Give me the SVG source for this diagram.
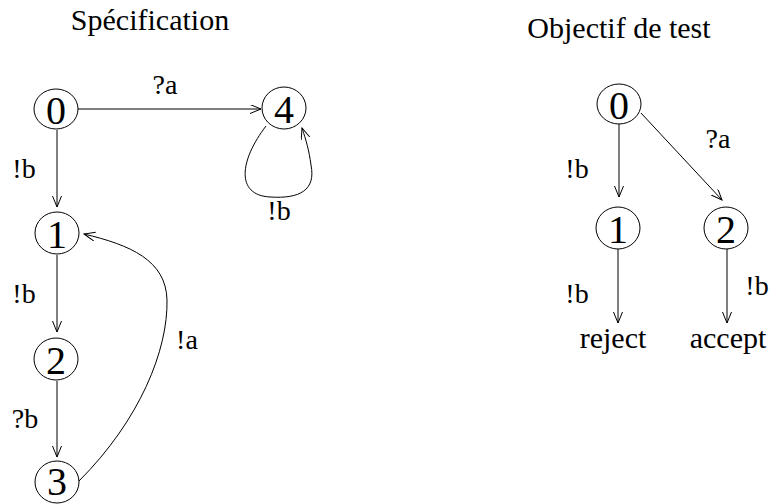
<svg xmlns="http://www.w3.org/2000/svg" width="772" height="504" viewBox="0 0 772 504">
<style>
  .node ellipse { fill: #fff; stroke: #000; stroke-width: 1; }
  .num { font-family: "Liberation Serif", "Times New Roman", serif; font-size: 40px; text-anchor: middle; fill: #000; }
  .lbl { font-family: "Liberation Serif", "Times New Roman", serif; font-size: 28px; text-anchor: middle; fill: #000; }
  .ttl { font-family: "Liberation Serif", "Times New Roman", serif; font-size: 30px; text-anchor: middle; fill: #000; }
  .edge { fill: none; stroke: #000; stroke-width: 1; marker-end: url(#arr); }
</style>
<defs>
  <marker id="arr" markerUnits="userSpaceOnUse" markerWidth="14" markerHeight="12" refX="11" refY="4.5" orient="auto">
    <path d="M0,0 L11,4.5 L0,9" fill="none" stroke="#000" stroke-width="1"/>
  </marker>
</defs>
<rect width="772" height="504" fill="#fff"/>

<text class="ttl" x="150" y="30">Spécification</text>
<text class="ttl" x="619" y="38">Objectif de test</text>

<g id="connectors">
  <path class="edge" d="M78,109 L261,109"/>
  <path class="edge" d="M57,130 L57,207"/>
  <path class="edge" d="M57,255 L57,332"/>
  <path class="edge" d="M57,381 L57,457"/>
  <path class="edge" d="M79,481 C140,420 168,350 167,300 C166,260 130,245 84,234"/>
  <path class="edge" d="M266,126 C240,160 235,195 270,197 C300,199 316,190 311,165 C309,150 306,140 302,128"/>
  <path class="edge" d="M619,124 L619,197"/>
  <path class="edge" d="M641,113 L722,200"/>
  <path class="edge" d="M618,249 L618,323"/>
  <path class="edge" d="M727,249 L727,323"/>
  <text class="lbl" x="165" y="94">?a</text>
  <text class="lbl" x="24" y="178">!b</text>
  <text class="lbl" x="279" y="220">!b</text>
  <text class="lbl" x="24" y="303">!b</text>
  <text class="lbl" x="25" y="428">?b</text>
  <text class="lbl" x="187" y="349">!a</text>
  <text class="lbl" x="577" y="178">!b</text>
  <text class="lbl" x="718" y="148">?a</text>
  <text class="lbl" x="577" y="303">!b</text>
  <text class="lbl" x="757" y="295">!b</text>
</g>

<g id="s0" class="node"><ellipse cx="56" cy="109" rx="22" ry="20"/><text class="num" x="56" y="124">0</text></g>
<g id="s4" class="node"><ellipse cx="284" cy="108" rx="22" ry="21"/><text class="num" x="284" y="123">4</text></g>
<g id="s1" class="node"><ellipse cx="57" cy="233" rx="22" ry="21"/><text class="num" x="57" y="248">1</text></g>
<g id="s2" class="node"><ellipse cx="56" cy="359" rx="22" ry="21"/><text class="num" x="56" y="374">2</text></g>
<g id="s3" class="node"><ellipse cx="57" cy="482" rx="22" ry="21"/><text class="num" x="57" y="495">3</text></g>

<g id="t0" class="node"><ellipse cx="619" cy="104" rx="22" ry="20"/><text class="num" x="619" y="119">0</text></g>
<g id="t1" class="node"><ellipse cx="618" cy="228" rx="22" ry="21"/><text class="num" x="618" y="243">1</text></g>
<g id="t2" class="node"><ellipse cx="726" cy="228" rx="22" ry="21"/><text class="num" x="726" y="243">2</text></g>
<g id="reject"><text class="ttl" x="613" y="348">reject</text></g>
<g id="accept"><text class="ttl" x="728" y="348">accept</text></g>
</svg>
